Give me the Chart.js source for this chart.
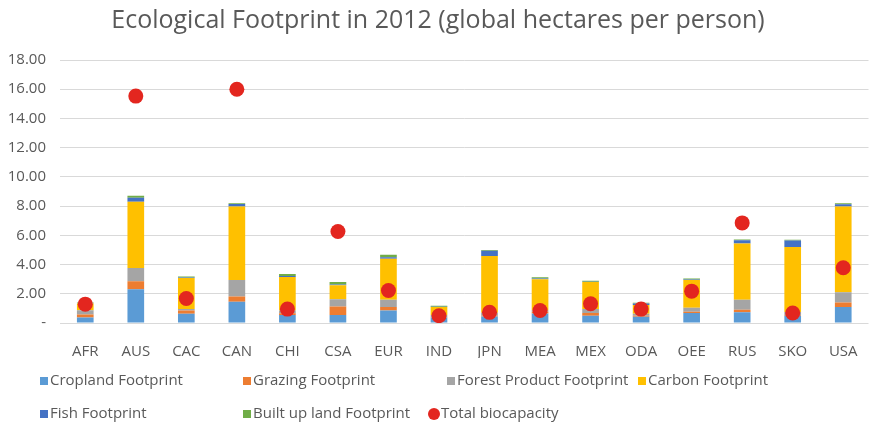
<!DOCTYPE html>
<html>
<head>
<meta charset="utf-8">
<title>Ecological Footprint in 2012</title>
<script src="https://cdn.jsdelivr.net/npm/chart.js@4.4.1/dist/chart.umd.min.js"></script>
<style>
    html, body { margin: 0; padding: 0; background: #ffffff; }
    #wrap { width: 876px; height: 428px; }
</style>
</head>
<body>
<div id="wrap"><canvas id="huella"></canvas></div>
<script>
// Regiones
const regiones = ['AFR', 'AUS', 'CAC', 'CAN', 'CHI', 'CSA', 'EUR', 'IND', 'JPN', 'MEA', 'MEX', 'ODA', 'OEE', 'RUS', 'SKO', 'USA'];

// Componentes de la huella (hectáreas globales por persona)
const cultivos   = [0.38, 2.31, 0.63, 1.45, 0.55, 0.54, 0.86, 0.38, 0.45, 0.65, 0.50, 0.42, 0.68, 0.73, 0.50, 1.10];
const pastoreo   = [0.20, 0.55, 0.23, 0.36, 0.12, 0.59, 0.23, 0.03, 0.05, 0.12, 0.18, 0.07, 0.09, 0.18, 0.05, 0.30];
const bosque     = [0.30, 0.90, 0.09, 1.14, 0.18, 0.50, 0.50, 0.14, 0.20, 0.10, 0.27, 0.15, 0.27, 0.68, 0.20, 0.70];
const carbono    = [0.45, 4.54, 2.13, 5.03, 2.30, 0.96, 2.81, 0.55, 3.88, 2.13, 1.85, 0.60, 1.91, 3.85, 4.45, 5.88];
const pesca      = [0.03, 0.27, 0.03, 0.16, 0.06, 0.05, 0.10, 0.02, 0.36, 0.04, 0.03, 0.10, 0.02, 0.23, 0.45, 0.15];
const construido = [0.05, 0.14, 0.07, 0.06, 0.15, 0.17, 0.17, 0.06, 0.06, 0.09, 0.07, 0.04, 0.07, 0.05, 0.05, 0.07];

// Biocapacidad total
const biocapacidad = [1.29, 15.53, 1.68, 16.00, 0.95, 6.26, 2.22, 0.50, 0.73, 0.86, 1.32, 0.95, 2.18, 6.85, 0.68, 3.78];

// Marcas del eje Y
const marcasY = [0, 2, 4, 6, 8, 10, 12, 14, 16, 18];

const fuente = "'Liberation Sans Narrow', 'Open Sans', sans-serif";
const gris = '#595959';

function barra(label, data, color) {
    return { type: 'bar', label, data, backgroundColor: color, stack: 'huella', order: 1,
             barPercentage: 0.33, categoryPercentage: 1 };
}

// Leyenda dibujada a mano, en dos filas como la de Excel
const leyenda = {
    id: 'leyenda',
    afterDraw(chart) {
        const ctx = chart.ctx;
        const pos = [[40, 381], [243, 381], [447, 381], [638, 381], [40, 414], [243, 414], [429, 414]];
        ctx.save();
        ctx.font = '15px ' + fuente;
        ctx.textBaseline = 'middle';
        chart.data.datasets.forEach((ds, i) => {
            const [x, y] = pos[i];
            if (ds.type === 'line') {
                ctx.fillStyle = ds.backgroundColor;
                ctx.beginPath();
                ctx.arc(x + 5, y, 6, 0, Math.PI * 2);
                ctx.fill();
                ctx.fillStyle = gris;
                ctx.fillText(ds.label, x + 12, y);
            } else {
                ctx.fillStyle = ds.backgroundColor;
                ctx.fillRect(x, y - 4, 8, 8);
                ctx.fillStyle = gris;
                ctx.fillText(ds.label, x + 10, y);
            }
        });
        ctx.restore();
    }
};

const config = {
    data: {
        labels: regiones,
        datasets: [
            barra('Cropland Footprint', cultivos, '#5b9bd5'),
            barra('Grazing Footprint', pastoreo, '#ed7d31'),
            barra('Forest Product Footprint', bosque, '#a5a5a5'),
            barra('Carbon Footprint', carbono, '#ffc000'),
            barra('Fish Footprint', pesca, '#4472c4'),
            barra('Built up land Footprint', construido, '#70ad47'),
            {
                type: 'line',
                label: 'Total biocapacity',
                data: biocapacidad,
                showLine: false,
                order: 0,
                backgroundColor: '#e3261f',
                borderColor: '#e3261f',
                pointRadius: 7.5,
                pointBorderWidth: 0
            }
        ]
    },
    options: {
        responsive: true,
        maintainAspectRatio: false,
        animation: false,
        layout: { padding: { left: 0, right: 0, top: 0, bottom: 70 } },
        plugins: {
            legend: { display: false },
            tooltip: { enabled: false },
            title: {
                display: true,
                text: 'Ecological Footprint in 2012 (global hectares per person)',
                color: gris,
                font: { family: fuente, size: 25, weight: 'normal' },
                padding: { top: 6, bottom: 24 }
            }
        },
        scales: {
            x: {
                stacked: true,
                grid: { display: false },
                border: { display: false },
                ticks: { color: gris, font: { family: fuente, size: 15 }, padding: 12 },
                afterFit(axis) { axis.height = 35; }
            },
            y: {
                stacked: true,
                min: 0,
                max: 18,
                afterBuildTicks(axis) { axis.ticks = marcasY.map(v => ({ value: v })); },
                grid: { color: '#d9d9d9', drawTicks: false },
                border: { display: false },
                ticks: {
                    color: gris,
                    font: { family: fuente, size: 15 },
                    padding: 14,
                    callback: v => v === 0 ? '-' : v.toFixed(2)
                },
                afterFit(axis) { axis.width = 60; }
            }
        }
    },
    plugins: [leyenda]
};

new Chart(document.getElementById('huella'), config);
</script>
</body>
</html>
